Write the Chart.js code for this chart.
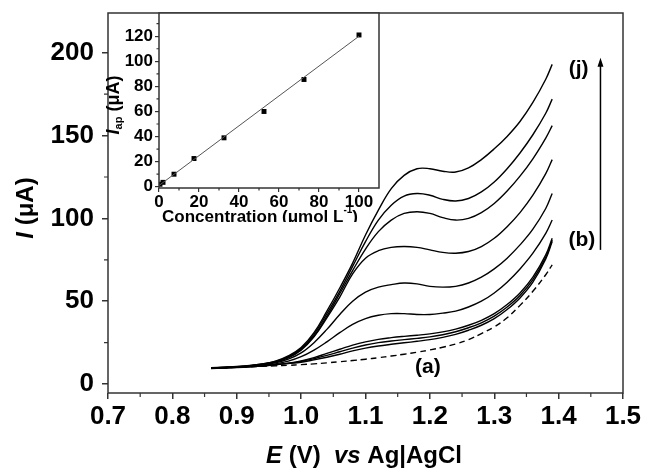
<!DOCTYPE html>
<html><head><meta charset="utf-8">
<script src="https://cdn.jsdelivr.net/npm/chart.js@4/dist/chart.umd.min.js"></script>
<style>
html,body{margin:0;padding:0;background:#fff;}
#wrap{position:relative;width:646px;height:471px;overflow:hidden;}
#main{position:absolute;left:0;top:0;}
#inset{position:absolute;left:100px;top:0;}
</style></head><body>
<div id="wrap"><canvas id="main" width="646" height="471"></canvas><canvas id="inset" width="285" height="222"></canvas></div>
<script>
// ---- main chart data (E in V vs Ag|AgCl, I in µA) ----
const potentials = [0.86,0.88,0.90,0.92,0.94,0.96,0.98,1.00,1.02,1.04,1.06,1.08,1.10,1.12,1.14,1.16,1.18,1.20,1.22,1.24,1.26,1.28,1.30,1.32,1.34,1.36,1.38,1.39];
const currentA = [9.5,9.8,10.1,10.4,10.7,11.0,11.3,11.7,12.2,12.8,13.5,14.2,15.0,15.9,16.9,18.0,19.2,20.6,22.2,24.2,26.8,30.5,34.5,40,47.5,56,66,72];
const currentB = [9.6,9.9,10.2,10.6,11.1,11.7,12.4,13.2,14.6,16.2,18.0,20.0,21.7,23.0,24.0,24.9,25.8,26.8,28.2,30.0,32.5,35.5,39.5,45,52,61.5,75.5,86];
const currentC = [9.5,9.8,10.1,10.5,11.0,11.6,12.5,13.6,15.3,17.3,19.5,21.7,23.6,25.0,26.0,26.8,27.6,28.5,29.8,31.6,34.0,37.0,41.0,46.5,53.5,63,76.5,87];
const currentD = [9.4,9.7,10.0,10.4,10.9,11.6,12.6,14.0,16.0,18.5,21.0,23.5,25.5,27.0,28.0,28.8,29.5,30.3,31.5,33.2,35.5,38.5,42.5,48,55,64.5,78,88];
const currentE = [9.5,9.8,10.2,10.6,11.2,12.2,13.8,16.5,20.5,25.5,31,36,39.5,41.5,42.5,42.5,42,42,42.8,44,46.5,50,55,61.5,69.5,79,91,99];
const currentF = [9.5,9.9,10.3,10.8,11.6,12.8,15,18.8,25,33,42,50,55.5,58.5,60,61,60.5,59,58.5,59,61,64.5,69.5,76,84,93.5,106,115];
const currentG = [9.6,10,10.4,11,11.9,13.2,15.8,20.5,28.5,40,52.5,66.5,76,80.5,82.5,83,82.5,81,79.5,79,80,83,88,95,103.5,114,127,135.5];
const currentH = [9.6,10,10.4,11,12,13.4,16.2,21,29,41,54.5,68.5,81.5,92,99,103,104,103,100.5,99,100,103.5,109,116.5,125.5,136,148.5,156];
const currentI = [9.7,10.1,10.5,11.1,12.1,13.6,16.6,21.5,30,42.5,56,71,86,99,108,113.5,115,114,111.5,110.5,112,116,122,130,139.5,150.5,163.5,172];
const currentJ = [9.8,10.2,10.6,11.2,12.2,13.8,17,22,31,44,58,73,90,105,118,126,130,130,128.5,128,130.5,135.5,142,149.5,158.5,170,184,193];
const xTicks = [0.7,0.8,0.9,1.0,1.1,1.2,1.3,1.4,1.5];
const xMinor = [0.75,0.85,0.95,1.05,1.15,1.25,1.35,1.45];
const yTicks = [0,50,100,150,200];
const yMinor = [25,75,125,175];

// ---- inset data ----
const concentration = [0.5,2,7.5,17.5,32.5,52.5,72.5,100];
const peakCurrent = [2,3.5,10,22.5,39,60,85.5,121];
const fitConc = [0,100];
const fitCurrent = [1,120];
const insetXTicks = [0,20,40,60,80,100];
const insetXMinor = [10,30,50,70,90];
const insetYTicks = [0,20,40,60,80,100,120];
const insetYMinor = [10,30,50,70,90,110,130];

const FONT = "'Liberation Sans', Arial, Helvetica, sans-serif";
const AX = '#333';

function series(arr, dashed){
  return {data: potentials.map((e,i)=>({x:e,y:arr[i]})), borderColor:'#000', borderWidth:1.4,
    pointRadius:0, tension:0.4, fill:false, borderDash: dashed?[6,4]:[]};
}

function drawRich(ctx, parts, x, y, rot){
  ctx.save();
  ctx.translate(x,y); if(rot) ctx.rotate(rot);
  let total=0;
  parts.forEach(p=>{ctx.font=(p.italic?'italic ':'')+'bold '+p.size+'px '+FONT; p.w=ctx.measureText(p.t).width; total+=p.w;});
  let cx=-total/2;
  ctx.fillStyle='#000'; ctx.textBaseline='middle'; ctx.textAlign='left';
  parts.forEach(p=>{ctx.font=(p.italic?'italic ':'')+'bold '+p.size+'px '+FONT; ctx.fillText(p.t,cx,p.dy||0); cx+=p.w;});
  ctx.restore();
}

function minorTicks(chart, xm, ym, len){
  const ctx=chart.ctx, a=chart.chartArea, xs=chart.scales.x, ys=chart.scales.y;
  ctx.save(); ctx.strokeStyle=AX; ctx.lineWidth=1.2;
  ctx.beginPath();
  xm.forEach(v=>{const p=xs.getPixelForValue(v); ctx.moveTo(p,a.bottom); ctx.lineTo(p,a.bottom+len);});
  ym.forEach(v=>{const p=ys.getPixelForValue(v); ctx.moveTo(a.left,p); ctx.lineTo(a.left-len,p);});
  ctx.stroke();
  ctx.lineWidth=1.5; ctx.strokeRect(a.left,a.top,a.right-a.left,a.bottom-a.top);
  ctx.restore();
}
function noPad(s){ s.paddingTop=0; s.paddingBottom=0; s.paddingLeft=0; s.paddingRight=0; }

const mainDeco = {
  id:'mainDeco',
  afterDraw(chart){
    const ctx=chart.ctx, xs=chart.scales.x, ys=chart.scales.y;
    minorTicks(chart, xMinor, yMinor, 4);
    drawRich(ctx,[{t:'I',size:24,italic:true},{t:' (\u03BCA)',size:24}],26,208,-Math.PI/2);
    drawRich(ctx,[{t:'E',size:24,italic:true},{t:' (V)  ',size:24},{t:'vs',size:24,italic:true},{t:' Ag|AgCl',size:24}],364,456,0);
    const ax=xs.getPixelForValue(1.465), y0=ys.getPixelForValue(81), y1=ys.getPixelForValue(197);
    ctx.save(); ctx.strokeStyle='#000'; ctx.fillStyle='#000'; ctx.lineWidth=1.5;
    ctx.beginPath(); ctx.moveTo(ax,y0); ctx.lineTo(ax,y1+6); ctx.stroke();
    ctx.beginPath(); ctx.moveTo(ax,y1); ctx.lineTo(ax-3,y1+9); ctx.lineTo(ax+3,y1+9); ctx.closePath(); ctx.fill();
    ctx.font='bold 21px '+FONT; ctx.textAlign='center'; ctx.textBaseline='middle';
    ctx.fillText('(j)', xs.getPixelForValue(1.431), ys.getPixelForValue(190));
    ctx.fillText('(b)', xs.getPixelForValue(1.436), ys.getPixelForValue(87));
    ctx.fillText('(a)', xs.getPixelForValue(1.197), ys.getPixelForValue(10));
    ctx.restore();
  }
};

new Chart(document.getElementById('main'), {
  type:'line',
  data:{datasets:[series(currentA,true),series(currentB),series(currentC),series(currentD),series(currentE),
    series(currentF),series(currentG),series(currentH),series(currentI),series(currentJ)]},
  options:{
    responsive:false, animation:false, devicePixelRatio:1,
    layout:{padding:{top:13,right:23,left:0,bottom:0}},
    plugins:{legend:{display:false},tooltip:{enabled:false}},
    scales:{
      x:{type:'linear',min:0.7,max:1.5,
        afterBuildTicks:s=>{s.ticks=xTicks.map(v=>({value:v}));},
        afterFit:s=>{s.height=78; noPad(s);},
        ticks:{callback:v=>Number(v).toFixed(1),font:{family:FONT,size:26,weight:'bold'},color:'#000',padding:2,maxRotation:0,autoSkip:false},
        grid:{drawOnChartArea:false,tickLength:6,color:AX,lineWidth:1.5},border:{display:false}},
      y:{type:'linear',min:-5.4,max:224,
        afterBuildTicks:s=>{s.ticks=yTicks.map(v=>({value:v}));},
        afterFit:s=>{s.width=108; noPad(s);},
        ticks:{font:{family:FONT,size:26,weight:'bold'},color:'#000',padding:8},
        grid:{drawOnChartArea:false,tickLength:6,color:AX,lineWidth:1.5},border:{display:false}}
    }
  },
  plugins:[mainDeco]
});

const insetDeco = {
  id:'insetDeco',
  beforeDraw(chart){
    const ctx=chart.ctx,a=chart.chartArea; ctx.save(); ctx.fillStyle='#fff'; ctx.fillRect(a.left,a.top,a.right-a.left,a.bottom-a.top); ctx.restore();
  },
  afterDraw(chart){
    const ctx=chart.ctx;
    minorTicks(chart, insetXMinor, insetYMinor, 2.5);
    drawRich(ctx,[{t:'I',size:18,italic:true},{t:'ap',size:11,dy:5},{t:' (\u03BCA)',size:18}],14,105,-Math.PI/2);
    drawRich(ctx,[{t:'Concentration (\u03BCmol L',size:17},{t:'-1',size:10,dy:-7},{t:')',size:17}],160,217,0);
  }
};

new Chart(document.getElementById('inset'), {
  type:'scatter',
  data:{datasets:[
    {type:'line',data:fitConc.map((c,i)=>({x:c,y:fitCurrent[i]})),borderColor:'#555',borderWidth:1,pointRadius:0,fill:false},
    {data:concentration.map((c,i)=>({x:c,y:peakCurrent[i]})),pointStyle:'rect',pointRadius:3.5,backgroundColor:'#000',borderColor:'#000',borderWidth:0}
  ]},
  options:{
    responsive:false, animation:false, devicePixelRatio:1,
    layout:{padding:{top:13,right:6,left:0,bottom:0}},
    plugins:{legend:{display:false},tooltip:{enabled:false}},
    scales:{
      x:{type:'linear',min:0,max:110,
        afterBuildTicks:s=>{s.ticks=insetXTicks.map(v=>({value:v}));},
        afterFit:s=>{s.height=34; noPad(s);},
        ticks:{font:{family:FONT,size:17,weight:'bold'},color:'#000',padding:0,maxRotation:0,autoSkip:false},
        grid:{drawOnChartArea:false,tickLength:4,color:AX,lineWidth:1.2},border:{display:false}},
      y:{type:'linear',min:-1,max:138.5,
        afterBuildTicks:s=>{s.ticks=insetYTicks.map(v=>({value:v}));},
        afterFit:s=>{s.width=59; noPad(s);},
        ticks:{font:{family:FONT,size:17,weight:'bold'},color:'#000',padding:2,autoSkip:false},
        grid:{drawOnChartArea:false,tickLength:4,color:AX,lineWidth:1.2},border:{display:false}}
    }
  },
  plugins:[insetDeco]
});
</script>
</body></html>
